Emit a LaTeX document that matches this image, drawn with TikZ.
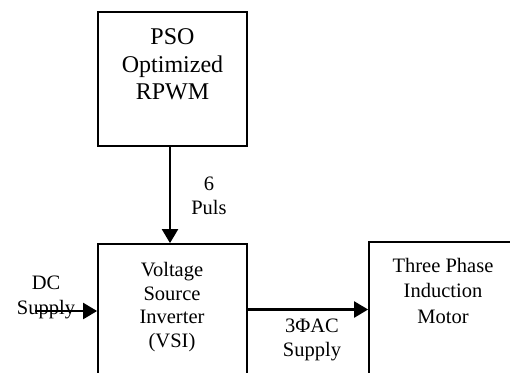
\documentclass[tikz,border=0pt]{standalone}
\usepackage{fontspec}
\setmainfont{Liberation Serif}
\usetikzlibrary{arrows.meta}
\tikzset{
  blockbox/.style={draw, line width=1.8pt, inner sep=0pt},
  arr/.style={line width=2.4pt, -{Triangle[length=14pt,width=16pt]}},
  bigtxt/.style={align=center, inner sep=0pt, font=\fontsize{24}{27.5}\selectfont},
  smalltxt/.style={align=center, inner sep=0pt, font=\fontsize{20.5}{23.5}\selectfont},
}
\begin{document}
\begin{tikzpicture}[x=1pt,y=-1pt]
\useasboundingbox (0,0) rectangle (510,372);
\clip (0,0) rectangle (510,372);
% boxes
\node[blockbox, minimum width=149pt, minimum height=134pt] (pso) at (172.5,79) {};
\node[blockbox, minimum width=149pt, minimum height=156pt] (vsi) at (172.5,322) {};
\node[blockbox, minimum width=150pt, minimum height=158pt] (motor) at (444,321) {};
% texts
\node[bigtxt] (psotxt) at (172.5,64.5) {PSO\\Optimized\\RPWM};
\node[smalltxt] (vsitxt) at (172,307) {Voltage\\Source\\Inverter\\(VSI)};
\node[smalltxt, font=\fontsize{20.5}{25.5}\selectfont] (motortxt) at (443,290.6) {Three Phase\\Induction\\Motor};
\node[smalltxt, font=\fontsize{20.5}{24}\selectfont] (pulstxt) at (209,196) {6\\Puls};
\node[smalltxt, font=\fontsize{20.5}{25}\selectfont] (dctxt) at (46,297.8) {DC\\Supply};
\node[smalltxt] (actxt) at (312,340) {3ΦAC\\Supply};
% connectors
\coordinate (dcin) at (35,311);
\coordinate (acy) at (300,309.5);
\draw[arr] ([xshift=-2.5pt]pso.south) -- ([xshift=-2.5pt]vsi.north);
\draw[arr] (dcin) -- (dcin -| vsi.west);
\draw[arr] (vsi.east |- acy) -- (motor.west |- acy);
\end{tikzpicture}
\end{document}
